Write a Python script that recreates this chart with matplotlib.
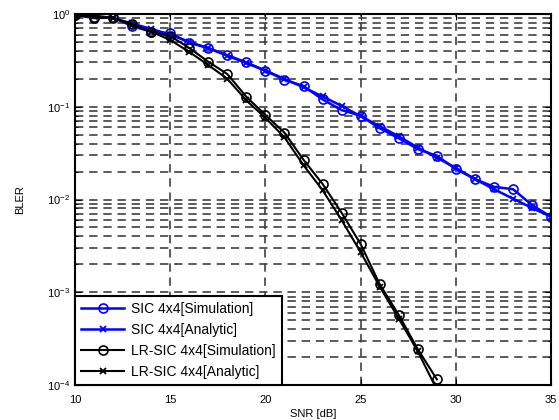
import matplotlib

matplotlib.use("Agg")
import matplotlib.pyplot as plt
from matplotlib.ticker import LogLocator, NullFormatter

plt.rcParams["font.family"] = ["Liberation Sans", "DejaVu Sans"]
plt.rcParams["mathtext.fontset"] = "custom"
plt.rcParams["mathtext.rm"] = "Liberation Sans"

snr = list(range(10, 36))
snr_lr = list(range(10, 30))

# SIC 4x4
sic_sim = [0.975, 0.935, 0.92, 0.74, 0.645, 0.62, 0.49, 0.43, 0.36, 0.30,
           0.245, 0.195, 0.167, 0.12, 0.092, 0.080, 0.0586, 0.0457, 0.035,
           0.0295, 0.0213, 0.0166, 0.0137, 0.0129, 0.0087, 0.0065]
sic_ana = [0.977, 0.944, 0.90, 0.79, 0.69, 0.60, 0.50, 0.427, 0.355, 0.295,
           0.245, 0.20, 0.162, 0.129, 0.102, 0.079, 0.0617, 0.0479, 0.0363,
           0.0282, 0.0219, 0.0166, 0.0129, 0.0102, 0.0081, 0.0065]

# LR-SIC 4x4
lr_sim = [0.975, 0.90, 0.91, 0.78, 0.645, 0.58, 0.43, 0.306, 0.225, 0.128,
          0.0815, 0.0525, 0.0268, 0.0147, 0.0072, 0.0033, 0.00122, 0.00057,
          0.000243, 0.000115]
lr_ana = [0.977, 0.955, 0.91, 0.76, 0.645, 0.525, 0.39, 0.282, 0.20, 0.117,
          0.0759, 0.0468, 0.0234, 0.0126, 0.0060, 0.0027, 0.00115, 0.00052,
          0.00023, 0.000089]

BLUE = "#0000ff"

fig = plt.figure(figsize=(5.59, 4.2), dpi=100)
ax = fig.add_axes([0.134, 0.0833, 0.852, 0.8834])

ax.semilogy(snr, sic_sim, "-o", color=BLUE, lw=1.8, ms=6.5, mfc="none",
            mew=1.2, label="SIC 4x4[Simulation]")
ax.semilogy(snr, sic_ana, "-x", color=BLUE, lw=1.8, ms=5, mew=1.3,
            label="SIC 4x4[Analytic]")
ax.semilogy(snr_lr, lr_sim, "-o", color="black", lw=1.5, ms=6.5, mfc="none",
            mew=1.2, label="LR-SIC 4x4[Simulation]")
ax.semilogy(snr_lr, lr_ana, "-x", color="black", lw=1.5, ms=5, mew=1.3,
            label="LR-SIC 4x4[Analytic]")

ax.set_xlim(10, 35)
ax.set_ylim(1e-4, 1)
ax.set_xticks([10, 15, 20, 25, 30, 35])
ax.yaxis.set_major_locator(LogLocator(base=10, numticks=10))
ax.yaxis.set_minor_locator(LogLocator(base=10, subs=range(2, 10), numticks=10))
ax.yaxis.set_minor_formatter(NullFormatter())

ax.grid(True, which="major", axis="both", color="#404040", ls=(0, (5, 3.5)), lw=1.2)
ax.grid(True, which="minor", axis="y", color="#404040", ls=(0, (5, 3.5)), lw=1.2)

ax.tick_params(which="both", direction="in", top=True, right=True, labelsize=8)
ax.tick_params(axis="x", pad=7)
ax.tick_params(which="major", length=4)
ax.tick_params(which="minor", length=2)
for s in ax.spines.values():
    s.set_linewidth(1.5)

ax.set_xlabel("SNR [dB]", fontsize=8, labelpad=3)
ax.set_ylabel("BLER", fontsize=8, labelpad=16)

leg = ax.legend(loc="lower left", fontsize=10, fancybox=False, framealpha=1,
                edgecolor="black", borderaxespad=0, handlelength=3.1,
                handletextpad=0.5, labelspacing=0.5, borderpad=0.45)
leg.get_frame().set_linewidth(1.5)

fig.savefig("out.png", dpi=100)
